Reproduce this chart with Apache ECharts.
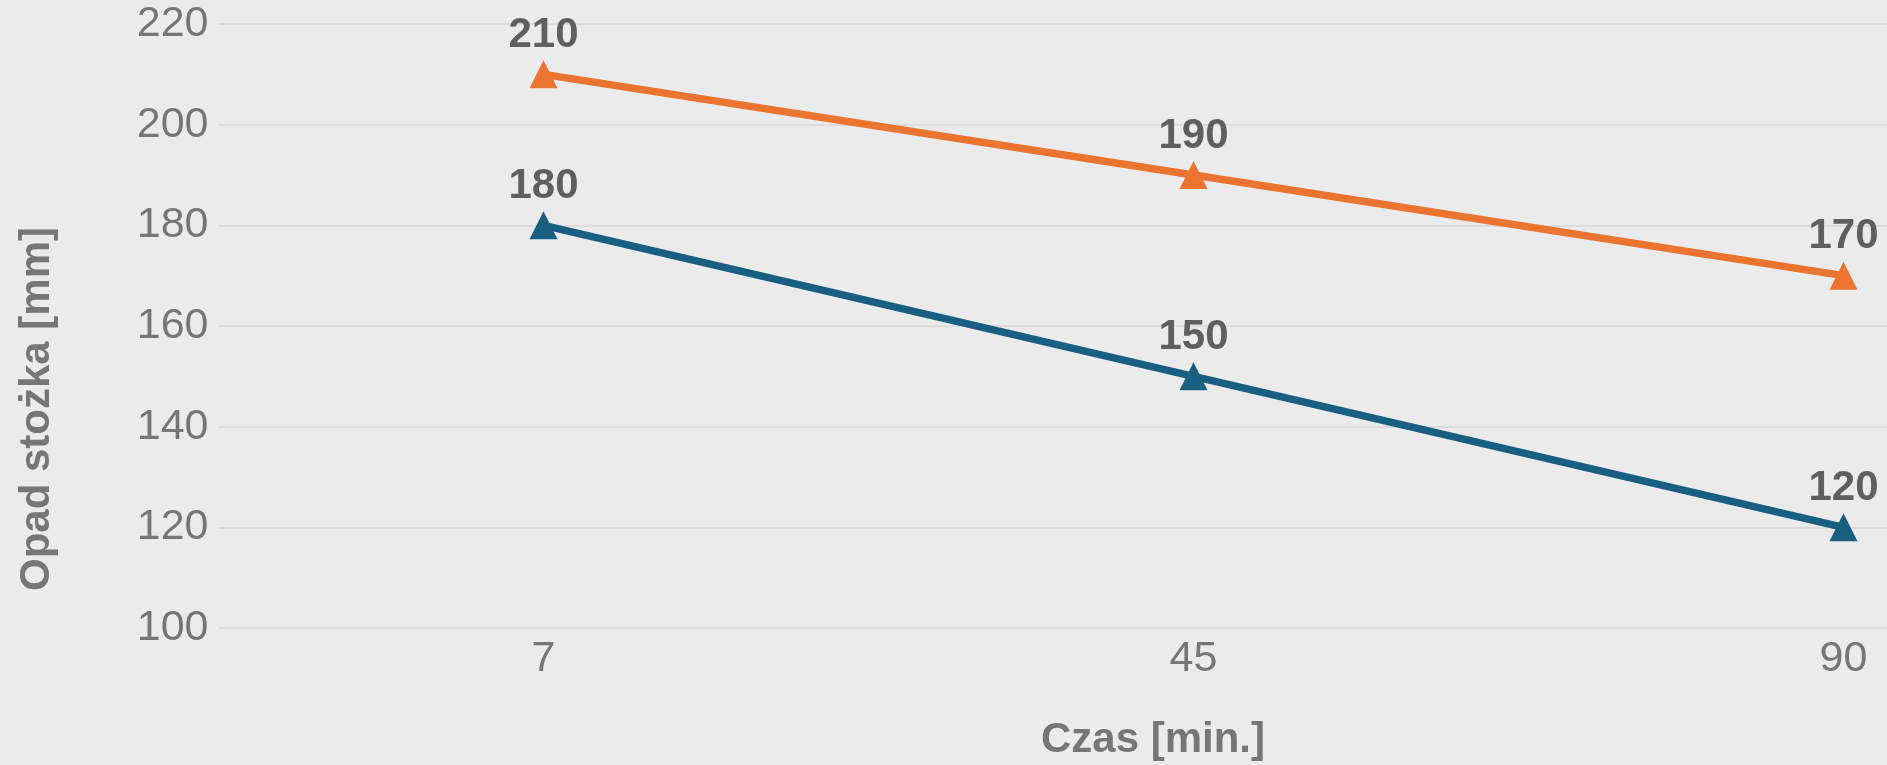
<!DOCTYPE html>
<html>
<head>
<meta charset="utf-8">
<title>Opad stożka w czasie</title>
<script src="https://cdn.jsdelivr.net/npm/echarts@6/dist/echarts.min.js"></script>
<style>
  html, body { margin: 0; padding: 0; background: #ebebeb; }
  #chart { width: 1887px; height: 765px; }
</style>
</head>
<body>
<div id="chart"></div>
<script>
// Time after mixing (minutes) on the category axis
const czas = ['7', '45', '90'];
// Slump values [mm] for the two mixes
const seriaPomaranczowa = [210, 190, 170];
const seriaNiebieska = [180, 150, 120];
// Value axis range and step
const yMin = 100;
const yMax = 220;
const yStep = 20;

const font = '"Liberation Sans", Arial, sans-serif';

const chart = echarts.init(document.getElementById('chart'), null, { renderer: 'canvas' });

function lineSeries(name, data, color) {
  return {
    name: name,
    type: 'line',
    data: data,
    symbol: 'triangle',
    symbolSize: 28,
    lineStyle: { width: 7.5, color: color },
    itemStyle: { color: color },
    label: {
      show: true,
      position: 'top',
      distance: 4,
      fontFamily: font,
      fontSize: 42,
      fontWeight: 'bold',
      color: '#5f5f5f'
    },
    z: 3
  };
}

chart.setOption({
  backgroundColor: '#ebebeb',
  animation: false,
  // The plot area runs past the right edge; the last band is cut off
  grid: {
    left: 218.5, width: 1950, top: 24, bottom: 137,
    containLabel: false,
    outerBoundsMode: 'none'
  },
  xAxis: {
    type: 'category',
    data: czas,
    boundaryGap: true,
    axisLine: { show: false },
    axisTick: { show: false },
    axisLabel: { margin: 10, fontFamily: font, fontSize: 43, color: '#767676' },
    name: 'Czas [min.]',
    nameLocation: 'middle',
    nameGap: 91,
    nameTextStyle: {
      fontFamily: font, fontSize: 42, fontWeight: 'bold', color: '#767676',
      padding: [0, 81, 0, 0]
    }
  },
  yAxis: {
    type: 'value',
    min: yMin,
    max: yMax,
    interval: yStep,
    axisLine: { show: false },
    axisTick: { show: false },
    splitLine: { lineStyle: { color: '#dcdcdc', width: 2 } },
    axisLabel: { margin: 10, fontFamily: font, fontSize: 43, color: '#767676' },
    name: 'Opad stożka [mm]',
    nameLocation: 'middle',
    nameRotate: 90,
    nameGap: 160,
    nameTextStyle: {
      fontFamily: font, fontSize: 42, fontWeight: 'bold', color: '#767676',
      padding: [0, 166, 0, 0]
    }
  },
  series: [
    lineSeries('Mieszanka 1', seriaPomaranczowa, '#ec7431'),
    lineSeries('Mieszanka 2', seriaNiebieska, '#185f82')
  ]
});
</script>
</body>
</html>
